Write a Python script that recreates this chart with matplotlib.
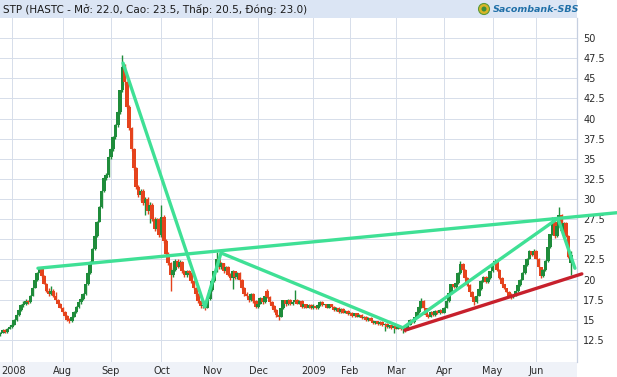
import matplotlib
matplotlib.use("Agg")
import matplotlib.pyplot as plt
from matplotlib.patches import Rectangle, Ellipse
import matplotlib.transforms as mtransforms
import numpy as np

# ---------------- data (trading-day index based) ----------------
opens = [13.2,13.4,13.7,13.5,13.9,14.1,14.4,15.0,15.6,16.2,
         16.8,17.0,17.3,17.2,18.0,19.0,19.9,20.8,21.3,20.4,
         19.5,18.6,18.2,18.6,18.0,17.5,17.0,16.5,16.0,15.5,
         15.0,14.8,15.4,16.0,16.6,17.2,17.6,18.2,19.4,20.8,
         22.2,23.8,25.4,27.2,29.0,31.0,32.6,33.0,35.2,36.2,
         37.7,39.2,40.8,43.5,46.4,44.5,41.5,38.8,36.2,33.8,
         31.5,30.5,31.0,29.5,30.0,28.5,29.3,27.5,26.3,27.5,
         25.5,27.8,24.8,23.2,22.0,20.5,21.2,22.3,21.6,22.2,
         21.0,20.5,21.0,20.8,19.8,19.0,18.2,17.3,16.7,16.8,
         16.5,17.6,18.7,19.8,21.0,22.6,21.5,22.0,21.0,21.6,
         20.6,20.2,21.0,20.3,20.8,20.0,19.0,18.2,18.0,17.4,
         18.2,17.3,16.6,17.0,17.7,17.2,18.6,17.8,17.2,16.7,
         16.2,15.6,15.4,16.4,17.4,16.9,17.5,16.9,17.2,17.5,
         17.0,17.3,16.6,16.9,16.5,16.8,16.4,16.7,16.4,16.8,
         17.2,16.8,16.9,16.5,16.9,16.6,16.2,16.5,16.0,16.3,
         15.9,16.1,15.7,15.9,15.5,15.8,15.4,15.6,15.2,15.4,
         15.0,15.2,14.9,14.6,14.8,14.5,14.7,14.3,14.5,14.1,
         14.3,14.0,14.2,13.9,14.1,13.8,14.0,13.8,14.4,15.0,
         14.7,15.3,16.0,16.6,17.3,16.4,15.6,15.4,16.0,15.6,
         16.1,15.8,16.2,15.9,16.5,17.3,18.3,19.4,19.1,19.6,
         20.8,21.9,21.2,20.2,19.3,18.5,17.8,17.2,18.0,18.8,
         19.8,20.3,19.7,20.2,21.0,21.9,22.3,21.2,20.2,19.4,
         18.9,18.5,18.0,17.8,18.1,18.6,19.3,20.0,20.8,21.8,
         22.6,23.5,23.0,23.6,22.6,21.5,20.4,21.2,22.3,24.0,
         25.6,27.2,25.4,26.6,28.0,26.0,27.0,25.4,22.0]
highs = [13.5,13.8,13.9,14.0,14.3,14.6,15.1,15.7,16.3,16.9,
         17.3,17.6,17.5,18.1,19.1,20.0,20.9,21.6,21.4,20.5,
         19.6,19.0,19.2,18.8,18.4,17.6,17.1,16.6,16.1,15.6,
         15.2,15.5,16.1,16.7,17.3,17.8,18.3,19.5,20.9,22.3,
         23.9,25.5,27.3,29.1,31.1,32.7,33.2,35.3,36.3,37.8,
         39.3,40.9,43.6,47.9,46.8,44.7,41.7,39.0,36.4,34.0,
         31.8,31.3,31.2,30.3,30.2,29.6,29.5,27.8,27.7,27.7,
         29.2,28.0,25.0,23.4,22.2,21.4,22.5,22.5,22.4,22.3,
         21.2,21.2,21.2,20.9,19.9,19.1,18.3,17.4,17.0,16.9,
         17.7,18.8,19.9,21.1,23.4,22.8,22.2,22.1,21.7,21.7,
         20.8,21.2,21.1,20.9,20.9,20.1,19.1,18.4,18.1,18.3,
         18.3,17.4,17.1,17.8,17.8,18.1,18.8,17.9,17.3,16.8,
         16.3,15.7,16.5,17.5,17.5,17.6,17.6,17.3,18.7,17.6,
         17.4,17.4,17.0,17.0,16.9,16.9,16.9,16.8,16.9,17.3,
         17.3,17.0,17.0,17.0,17.0,16.7,16.6,16.6,16.4,16.4,
         16.2,16.2,16.0,16.0,15.9,15.9,15.7,15.7,15.5,15.5,
         15.3,15.3,15.0,14.9,14.9,14.8,14.8,14.6,14.6,14.4,
         14.4,14.3,14.3,14.2,14.2,14.1,14.1,14.5,15.1,15.1,
         15.4,16.1,16.7,17.7,17.4,16.5,15.7,16.1,16.1,16.2,
         16.2,16.3,16.3,16.6,17.4,18.4,19.5,19.5,19.7,20.9,
         22.3,22.0,21.3,20.3,19.4,18.6,17.9,18.1,18.9,19.9,
         20.4,20.4,20.3,21.1,22.0,22.5,22.4,21.3,20.3,19.5,
         19.0,18.6,18.3,18.2,18.7,19.4,20.1,20.9,21.9,22.7,
         23.7,23.6,23.8,23.7,22.7,21.6,21.3,22.4,24.1,25.7,
         27.8,27.3,26.7,29.0,28.1,27.1,27.1,25.5,23.5]
lows = [13.0,13.3,13.4,13.4,13.8,14.0,14.3,14.9,15.5,16.1,
        16.6,16.8,16.9,17.1,17.9,18.9,19.8,20.7,20.3,19.4,
        18.5,18.0,18.1,17.8,17.4,16.9,16.4,15.9,15.4,14.9,
        14.6,14.7,15.3,15.9,16.4,17.0,17.5,18.1,19.3,20.7,
        22.1,23.7,25.3,27.1,28.9,30.9,32.4,32.8,35.0,36.0,
        37.5,39.0,40.6,43.3,44.2,41.3,38.6,36.0,33.6,31.3,
        30.2,29.8,29.2,28.0,28.2,27.0,27.3,26.0,26.1,25.3,
        25.3,24.6,23.0,21.8,18.6,20.3,21.0,21.4,21.4,20.8,
        20.3,20.3,20.6,19.6,18.8,18.0,17.1,16.5,16.4,16.2,
        16.4,17.5,18.6,19.7,20.9,21.3,21.3,20.8,20.9,20.4,
        20.0,18.8,20.1,20.1,19.8,18.8,18.0,17.8,17.2,17.3,
        17.1,16.4,16.5,16.9,17.0,17.1,17.7,17.0,16.5,16.0,
        15.4,15.0,15.3,16.3,16.7,16.8,16.8,16.8,17.1,16.9,
        16.9,16.5,16.5,16.4,16.4,16.3,16.3,16.3,16.3,16.7,
        16.7,16.7,16.4,16.4,16.5,16.1,16.1,15.9,15.9,15.8,
        15.8,15.6,15.6,15.4,15.4,15.3,15.3,15.1,15.1,14.9,
        14.9,14.8,14.5,14.5,14.4,14.4,14.2,13.6,14.0,14.0,
        13.9,13.4,13.8,13.8,13.7,13.3,13.5,13.7,14.3,14.6,
        14.6,15.2,15.9,16.5,16.3,15.5,15.2,15.3,15.5,15.5,
        15.7,15.7,15.8,15.8,16.4,17.2,18.2,19.0,19.0,19.5,
        20.7,21.1,20.1,19.2,18.4,17.7,16.8,17.1,17.9,18.7,
        19.7,19.6,19.6,20.1,20.9,21.8,21.1,20.1,19.3,18.8,
        18.4,17.9,17.6,17.7,18.0,18.5,19.2,19.9,20.7,21.7,
        22.5,22.9,22.9,22.5,21.4,20.2,20.3,21.1,22.2,23.9,
        25.5,25.2,25.3,26.5,25.9,25.9,25.3,22.7,20.5]
closes = [13.4,13.7,13.5,13.9,14.1,14.4,15.0,15.6,16.2,16.8,
          17.0,17.3,17.2,18.0,19.0,19.9,20.8,21.3,20.4,19.5,
          18.6,18.2,18.6,18.0,17.5,17.0,16.5,16.0,15.5,15.0,
          14.8,15.4,16.0,16.6,17.2,17.6,18.2,19.4,20.8,22.2,
          23.8,25.4,27.2,29.0,31.0,32.6,33.0,35.2,36.2,37.7,
          39.2,40.8,43.5,46.4,44.5,41.5,38.8,36.2,33.8,31.5,
          30.5,31.0,29.5,30.0,28.5,29.3,27.5,26.3,27.5,25.5,
          27.8,24.8,23.2,22.0,20.5,21.2,22.3,21.6,22.2,21.0,
          20.5,21.0,20.8,19.8,19.0,18.2,17.3,16.7,16.8,16.5,
          17.6,18.7,19.8,21.0,22.6,21.5,22.0,21.0,21.6,20.6,
          20.2,21.0,20.3,20.8,20.0,19.0,18.2,18.0,17.4,18.2,
          17.3,16.6,17.0,17.7,17.2,18.0,17.8,17.2,16.7,16.2,
          15.6,15.3,16.4,17.4,16.9,17.5,16.9,17.2,17.5,17.0,
          17.3,16.6,16.9,16.5,16.8,16.4,16.7,16.4,16.8,17.2,
          16.8,16.9,16.5,16.9,16.6,16.2,16.5,16.0,16.3,15.9,
          16.1,15.7,15.9,15.5,15.8,15.4,15.6,15.2,15.4,15.0,
          15.2,14.9,14.6,14.8,14.5,14.7,14.3,14.5,14.1,14.3,
          14.0,14.2,13.9,14.1,13.8,14.0,13.8,14.4,15.0,14.7,
          15.3,16.0,16.6,17.3,16.4,15.6,15.4,16.0,15.6,16.1,
          15.8,16.2,15.9,16.5,17.3,18.3,19.4,19.1,19.6,20.8,
          21.9,21.2,20.2,19.3,18.5,17.8,17.2,18.0,18.8,19.8,
          20.3,19.7,20.2,21.0,21.9,22.3,21.2,20.2,19.4,18.9,
          18.5,18.0,17.8,18.1,18.6,19.3,20.0,20.8,21.8,22.6,
          23.5,23.0,23.6,22.6,21.5,20.4,21.2,22.3,24.0,25.6,
          27.2,25.4,26.6,28.0,26.0,27.0,25.4,22.8,23.0]

month_labels = ["2008", "Aug", "Sep", "Oct", "Nov", "Dec", "2009", "Feb", "Mar", "Apr", "May", "Jun"]
month_start_idx = [5, 27, 48, 70, 92, 112, 136, 152, 172, 193, 214, 233]
price_ticks = [12.5, 15, 17.5, 20, 22.5, 25, 27.5, 30, 32.5, 35, 37.5, 40, 42.5, 45, 47.5, 50]

# trend lines drawn on the chart (trading-day index, price)
trend_top_x = [16.3, 268.0]
trend_top_y = [21.4, 28.3]
trend_zig_x = [53.3, 88.9, 95.9, 175.0, 242.4, 249.8]
trend_zig_y = [46.9, 16.6, 23.3, 14.0, 27.6, 21.4]
trend_red_x = [175.9, 252.8]
trend_red_y = [13.7, 20.7]

title_text = "STP (HASTC - Mở: 22.0, Cao: 23.5, Thấp: 20.5, Đóng: 23.0)"
logo_text = "Sacombank-SBS"

# ---------------- figure ----------------
W, H = 617, 377
fig = plt.figure(figsize=(W / 100, H / 100), dpi=100)
fig.patch.set_facecolor("white")

# background bands (drawn beneath the axes)
fig.patches.append(Rectangle((0, 1 - 18 / H), 577 / W, 18 / H, transform=fig.transFigure,
                             facecolor="#dbe5f4", edgecolor="none", zorder=-10))
fig.patches.append(Rectangle((0, 0), 577 / W, 15 / H, transform=fig.transFigure,
                             facecolor="#eff2f8", edgecolor="none", zorder=-10))

ax_left, ax_right, ax_top, ax_bot = 0, 577, 18, 362
ax = fig.add_axes([ax_left / W, 1 - ax_bot / H, (ax_right - ax_left) / W, (ax_bot - ax_top) / H])
ax.set_facecolor("white")

grid_c = "#d6ddea"
o = np.array(opens); h = np.array(highs); l = np.array(lows); c = np.array(closes)
idx = np.arange(len(o))
up = c >= o
green = "#1f8c3b"
red = "#e5431d"
cols = np.where(up, green, red)

ax.vlines(idx, l, h, colors=cols, linewidth=1.0, zorder=3)
body_bottom = np.minimum(o, c)
body_h = np.maximum(np.abs(c - o), 0.15)
ax.bar(idx, body_h, bottom=body_bottom, width=1.6, color=cols, linewidth=0, zorder=3)

line_green = "#3fe095"
ax.plot(trend_top_x, trend_top_y, color=line_green, lw=2.4, zorder=4, clip_on=False,
        solid_capstyle="round")
ax.plot(trend_zig_x, trend_zig_y, color=line_green, lw=2.4, zorder=4, clip_on=False,
        solid_capstyle="round", solid_joinstyle="round")
ax.plot(trend_red_x, trend_red_y, color="#c7202c", lw=2.4, zorder=4, clip_on=False,
        solid_capstyle="round")

ax.set_xlim(-0.2, 250.7)
ax.set_ylim(9.75, 52.5)

ax.set_yticks(price_ticks)
ax.set_yticklabels([("%g" % v) for v in price_ticks])
ax.yaxis.tick_right()
ax.set_xticks(month_start_idx)
ax.set_xticklabels(month_labels)
ax.tick_params(axis="y", length=0, pad=4.5, labelsize=7, labelcolor="#2a2a2a")
ax.tick_params(axis="x", length=0, pad=3.0, labelsize=7, labelcolor="#2a2a2a")
for lab in ax.get_yticklabels():
    lab.set_horizontalalignment("left")
# first label ("2008") sits a little right so it is not cut at the edge
first = ax.get_xticklabels()[0]
first.set_transform(first.get_transform() + mtransforms.ScaledTranslation(2 / 100, 0, fig.dpi_scale_trans))

ax.grid(True, color=grid_c, linewidth=0.7, zorder=0)
ax.set_axisbelow(True)
for s in ["left", "top", "bottom"]:
    ax.spines[s].set_visible(False)
ax.spines["right"].set_color("#c6cfe0")
ax.spines["right"].set_linewidth(0.9)

fig.text(3 / W, 1 - 9.5 / H, title_text, fontsize=7.5, color="#1a1a1a", va="center", ha="left")
# logo
fig.patches.append(Ellipse((484 / W, 1 - 9 / H), 11 / W, 11 / H, transform=fig.transFigure,
                           facecolor="#d9b526", edgecolor="#5a9a3a", lw=0.8, zorder=2))
fig.patches.append(Ellipse((484 / W, 1 - 9 / H), 5 / W, 5 / H, transform=fig.transFigure,
                           facecolor="#3c8f3c", edgecolor="none", zorder=3))
fig.text(493 / W, 1 - 9 / H, logo_text, fontsize=6.8, fontweight="bold", fontstyle="italic",
         color="#2070a8", va="center", ha="left")

fig.savefig("out.png", dpi=100, facecolor="white")
